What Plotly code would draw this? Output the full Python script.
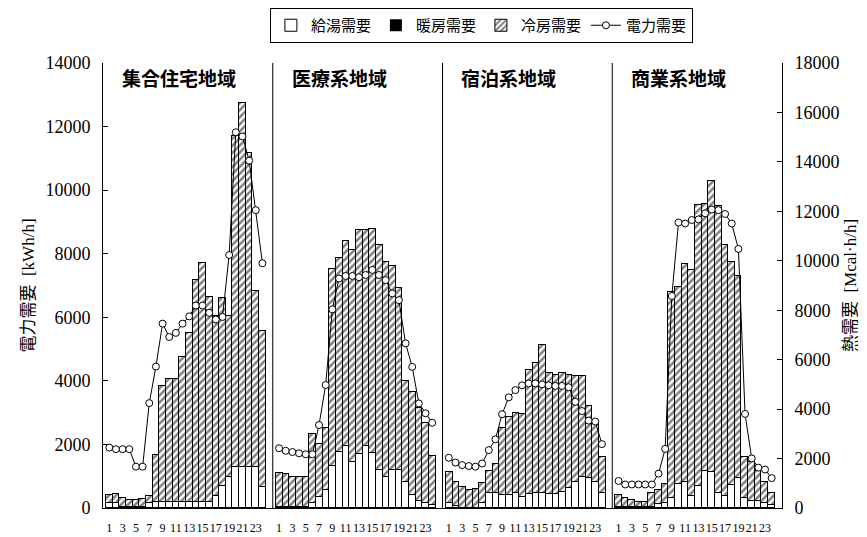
import plotly.graph_objects as go

# ── Data ─────────────────────────────────────────────────────────────────────
HOURS = list(range(1, 25))
TICK_HOURS = list(range(1, 24, 2))

REGIONS = ["集合住宅地域", "医療系地域", "宿泊系地域", "商業系地域"]

# 給湯需要 [Mcal/h] (white)
hot_water = [
    [190, 190, 50, 50, 50, 50, 190, 260, 260, 260, 260, 260, 260, 260, 260, 260, 490, 890, 1270, 1670, 1670, 1670, 1670, 860],
    [40, 40, 30, 30, 40, 220, 430, 730, 1700, 2280, 2510, 1880, 2190, 2510, 2240, 1540, 1240, 1540, 1540, 1070, 530, 300, 220, 140],
    [220, 95, 0, 0, 0, 220, 590, 590, 530, 530, 620, 430, 570, 590, 590, 570, 570, 660, 800, 1070, 1240, 1200, 1070, 620],
    [50, 40, 30, 30, 30, 40, 160, 220, 390, 970, 1070, 490, 890, 1510, 1470, 590, 490, 930, 1200, 390, 300, 300, 220, 120],
]

# 暖房需要 [Mcal/h] (black) - none on this day
heating = [[0] * 24 for _ in range(4)]

# 冷房需要 [Mcal/h] (hatched)
cooling = [
    [340, 360, 340, 270, 270, 300, 300, 1890, 4680, 4950, 4950, 5830, 6810, 8970, 9650, 8270, 7260, 7600, 6510, 13370, 14720, 12670, 7090, 6280],
    [1360, 1340, 1210, 1210, 1230, 2780, 2170, 2520, 7980, 7830, 8280, 8570, 9040, 8720, 9050, 9110, 8700, 8260, 7360, 4050, 4180, 3740, 3230, 1960],
    [1250, 950, 860, 730, 750, 780, 910, 1210, 2690, 3170, 3210, 3380, 5020, 5270, 6010, 4910, 4820, 4790, 4590, 4280, 4110, 2940, 2360, 1430],
    [480, 350, 290, 230, 230, 550, 570, 750, 8350, 7970, 8810, 9120, 11350, 10800, 11750, 11610, 10160, 9020, 8200, 1660, 1550, 1200, 830, 500],
]

# 電力需要 [kWh/h]
power = [
    [1900, 1850, 1850, 1850, 1300, 1300, 3300, 4450, 5800, 5380, 5510, 5800, 6030, 6370, 6370, 6140, 5930, 6010, 7960, 11820, 11690, 10930, 9370, 7700],
    [1880, 1800, 1760, 1720, 1690, 1690, 2610, 3870, 6250, 7220, 7300, 7300, 7260, 7330, 7490, 7330, 7170, 6750, 6540, 5180, 4440, 3290, 2980, 2680],
    [1580, 1430, 1350, 1320, 1300, 1400, 1820, 2160, 2950, 3480, 3710, 3860, 3920, 3920, 3890, 3860, 3840, 3840, 3800, 3340, 3050, 2750, 2720, 2010],
    [850, 740, 740, 740, 740, 740, 1080, 1860, 6670, 8980, 8950, 9060, 9080, 9270, 9390, 9370, 9250, 8950, 8150, 2960, 1560, 1270, 1210, 940],
]

SERIF = "Liberation Serif, Noto Sans CJK JP"
CJK = "Noto Sans CJK JP"

# ── Figure ───────────────────────────────────────────────────────────────────
fig = go.Figure()

for i in range(4):
    xa = "x" if i == 0 else f"x{i + 1}"
    first = i == 0
    fig.add_trace(go.Bar(
        x=HOURS, y=hot_water[i], name="給湯需要", legendgroup="hw", showlegend=first,
        xaxis=xa, yaxis="y",
        marker=dict(color="white", line=dict(color="black", width=1)),
    ))
    fig.add_trace(go.Bar(
        x=HOURS, y=heating[i], name="暖房需要", legendgroup="ht", showlegend=first,
        xaxis=xa, yaxis="y",
        marker=dict(color="black", line=dict(color="black", width=0)),
    ))
    fig.add_trace(go.Bar(
        x=HOURS, y=cooling[i], name="冷房需要", legendgroup="cl", showlegend=first,
        xaxis=xa, yaxis="y",
        marker=dict(color="white",
                    pattern=dict(shape="/", fgcolor="black", bgcolor="white", size=5, solidity=0.5),
                    line=dict(color="black", width=1)),
    ))

for i in range(4):
    xa = "x" if i == 0 else f"x{i + 1}"
    fig.add_trace(go.Scatter(
        x=HOURS, y=power[i], name="電力需要", legendgroup="pw", showlegend=(i == 0),
        xaxis=xa, yaxis="y2", mode="lines+markers",
        line=dict(color="black", width=1),
        marker=dict(symbol="circle", size=7, color="white", line=dict(color="black", width=1)),
    ))

xaxis_style = dict(
    range=[0.05, 25.55], tickvals=TICK_HOURS, ticks="", tickangle=0,
    showline=True, linecolor="black", linewidth=1, showgrid=False, zeroline=False,
    tickfont=dict(family=SERIF, size=12, color="black"), ticklabelstandoff=9,
    anchor="y", automargin=False,
)
domains = [[0, 0.25], [0.25, 0.5], [0.5, 0.75], [0.75, 1]]
for i, dom in enumerate(domains):
    key = "xaxis" if i == 0 else f"xaxis{i + 1}"
    fig.update_layout({key: dict(domain=dom, **xaxis_style)})

yaxis_style = dict(
    dtick=2000, tickformat="d", ticks="inside", ticklen=5, tickcolor="black",
    showline=True, linecolor="black", linewidth=1, showgrid=False, zeroline=False,
    tickfont=dict(family=SERIF, size=18, color="black"), ticklabelstandoff=8,
    automargin=False,
)
fig.update_layout(
    yaxis=dict(range=[0, 18000], side="right", anchor="x4",
               title=dict(text="熱需要  [Mcal·h/h]", font=dict(family=SERIF, size=17, color="black"), standoff=5),
               **yaxis_style),
    yaxis2=dict(range=[0, 14000], side="left", anchor="x", overlaying="y",
                title=dict(text="電力需要  [kWh/h]", font=dict(family=SERIF, size=17, color="black"), standoff=6),
                **yaxis_style),
)

# panel separators and titles
for i in range(1, 4):
    fig.add_shape(type="line", xref="paper", yref="paper", x0=i * 0.25, x1=i * 0.25, y0=0, y1=1,
                  line=dict(color="black", width=1))
for i, name in enumerate(REGIONS):
    xref = "x domain" if i == 0 else f"x{i + 1} domain"
    fig.add_annotation(text=f"<b>{name}</b>", xref=xref, yref="paper", x=0.1, y=0.968,
                       xanchor="left", yanchor="middle", showarrow=False,
                       font=dict(family=CJK, size=19, color="black"))

# the page body adds an 8px offset, so margins are shifted to compensate
fig.update_layout(
    width=867, height=537,
    margin=dict(l=95, r=93, t=55, b=37),
    barmode="stack", bargap=0,
    paper_bgcolor="white", plot_bgcolor="white",
    font=dict(family=SERIF, color="black"),
    legend=dict(
        orientation="h", xref="container", yref="container",
        x=0.546, xanchor="center", y=1.0, yanchor="top",
        bordercolor="black", borderwidth=1, bgcolor="white",
        font=dict(family=CJK, size=15, color="black"),
        itemwidth=30, traceorder="normal",
    ),
)

fig.write_html("out.html")
